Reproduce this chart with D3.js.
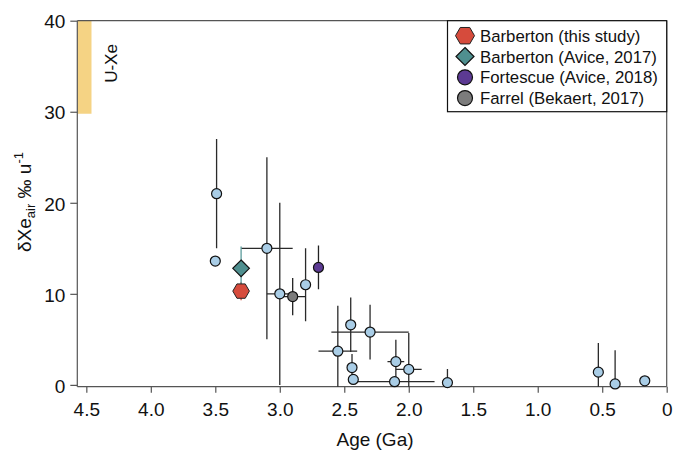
<!DOCTYPE html>
<html><head><meta charset="utf-8">
<script src="https://cdn.jsdelivr.net/npm/d3@7"></script>
<style>body{margin:0;background:#fff}svg{display:block}text{font-family:"Liberation Sans",Arial,Helvetica,sans-serif;fill:#111}</style>
</head><body>
<svg id="c" width="673" height="451"></svg>
<script>
// ---- data ----
const xTicks = [4.5, 4.0, 3.5, 3.0, 2.5, 2.0, 1.5, 1.0, 0.5, 0];
const xTickLabels = ["4.5", "4.0", "3.5", "3.0", "2.5", "2.0", "1.5", "1.0", "0.5", "0"];
const yTicks = [0, 10, 20, 30, 40];
const yTickLabels = ["0", "10", "20", "30", "40"];

// compiled literature data (light blue circles)
const litAge  = [3.49, 3.50, 3.10, 3.00, 2.80, 2.45, 2.30, 2.55, 2.44, 2.43, 2.11, 2.10, 2.00, 1.70, 0.53, 0.40, 0.17];
const litVal  = [21.0, 13.6, 15.0, 10.0, 11.0, 6.6, 5.8, 3.7, 1.9, 0.6, 0.35, 2.55, 1.7, 0.25, 1.4, 0.1, 0.45];
const litYErr = [6, 0, 10, 10, 4, 3, 3, 5, 1.5, 0.5, 0, 2.4, 4, 1.5, 3.2, 3.7, 0];
const litXErr = [0, 0, 0.2, 0.1, 0, 0, 0.3, 0.15, 0, 0, 0.31, 0.065, 0.1, 0, 0, 0, 0];

const seriesNames = ["Barberton (this study)", "Barberton (Avice, 2017)", "Fortescue (Avice, 2018)", "Farrel (Bekaert, 2017)"];
const seriesAge  = [3.30, 3.30, 2.70, 2.90];
const seriesVal  = [10.3, 12.8, 12.9, 9.7];
const seriesYErr = [1.0, 2.4, 2.4, 2.05];
const seriesXErr = [0, 0, 0, 0.1];

// U-Xe band
const uxeAge = [4.57, 4.46];
const uxeVal = [30, 40];
const uxeLabel = "U-Xe";

// ---- styling ----
const colLit = "#a9cde6";
const seriesFill = ["#d64b3c", "#4f8f8f", "#5c3a93", "#7c7c7c"];
const seriesBar  = ["#d64b3c", "#5a9a9a", "#222", "#222"];
const seriesShape = ["hex", "diamond", "circle", "circle"];

const svg = d3.select("#c");
const L = 77.3, R = 666.7, T = 20.7, B = 386.7;
const x = d3.scaleLinear().domain([4.57, 0]).range([L, R]);
const y = d3.scaleLinear().domain([-0.2, 40]).range([B, T]);

svg.append("defs").append("clipPath").attr("id", "clip")
  .append("rect").attr("x", L).attr("y", T).attr("width", R - L).attr("height", B - T);

// U-Xe band
svg.append("rect").attr("x", x(uxeAge[0])).attr("y", y(uxeVal[1]))
  .attr("width", x(uxeAge[1]) - x(uxeAge[0])).attr("height", y(uxeVal[0]) - y(uxeVal[1]) + 2)
  .attr("fill", "#f5d384");
svg.append("text").attr("transform", `translate(${x(4.265)},${y(35.3)}) rotate(-90)`)
  .attr("text-anchor", "middle").attr("font-size", 17).text(uxeLabel);

// frame
const frame = svg.append("g").attr("stroke", "#555").attr("stroke-width", 1.2).attr("fill", "none");
frame.append("line").attr("x1", L).attr("x2", R).attr("y1", T).attr("y2", T);
frame.append("line").attr("x1", R).attr("x2", R).attr("y1", T).attr("y2", B);

// axes
const xAxis = d3.axisBottom(x).tickValues(xTicks).tickFormat((d, i) => xTickLabels[i]).tickSize(6).tickSizeOuter(0);
const gx = svg.append("g").attr("transform", `translate(0,${B})`).call(xAxis);
gx.selectAll("text").attr("font-size", 19).attr("dy", "1.05em").attr("fill", "#111");
const yAxis = d3.axisLeft(y).tickValues(yTicks).tickFormat((d, i) => yTickLabels[i]).tickSize(7).tickSizeOuter(0);
const gy = svg.append("g").attr("transform", `translate(${L},0)`).call(yAxis);
gy.selectAll("text").attr("font-size", 19).attr("x", -12).attr("dy", "0.38em").attr("fill", "#111");
[gx, gy].forEach(g => {
  g.select(".domain").attr("stroke", "#555").attr("stroke-width", 1.2);
  g.selectAll(".tick line").attr("stroke", "#555").attr("stroke-width", 1.2);
  g.attr("font-family", null);
});
gy.select(".domain").attr("d", `M0,${B}V${T}`);
gx.select(".domain").attr("d", `M${L},0H${R}`);

// axis titles
svg.append("text").attr("x", (L + R) / 2 + 3).attr("y", 446).attr("text-anchor", "middle")
  .attr("font-size", 19).text("Age (Ga)");
const yt = svg.append("text").attr("transform", `translate(31,202) rotate(-90)`)
  .attr("text-anchor", "middle").attr("font-size", 19);
yt.append("tspan").text("δXe");
yt.append("tspan").attr("font-size", 13).attr("dy", 4).text("air");
yt.append("tspan").attr("dy", -4).text(" ‰ u");
yt.append("tspan").attr("font-size", 13).attr("dy", -8).text("-1");

// error bars
const plot = svg.append("g").attr("clip-path", "url(#clip)");
const eb = plot.append("g").attr("fill", "none");
function errBars(ages, vals, xe, ye, color) {
  ages.forEach((a, i) => {
    if (ye[i] > 0) eb.append("line").attr("x1", x(a)).attr("x2", x(a))
      .attr("y1", y(vals[i] + ye[i])).attr("y2", y(vals[i] - ye[i]))
      .attr("stroke", typeof color === "string" ? color : color[i]).attr("stroke-width", 1.3);
    if (xe[i] > 0) eb.append("line").attr("x1", x(a + xe[i])).attr("x2", x(a - xe[i]))
      .attr("y1", y(vals[i])).attr("y2", y(vals[i]))
      .attr("stroke", typeof color === "string" ? color : color[i]).attr("stroke-width", 1.3);
  });
}
errBars(litAge, litVal, litXErr, litYErr, "#2a2a2a");
errBars(seriesAge, seriesVal, seriesXErr, seriesYErr, seriesBar);

// markers
function hexPath(r) {
  return d3.range(6).map(k => {
    const t = k * Math.PI / 3;
    return [r * Math.cos(t), r * Math.sin(t)];
  }).map((p, k) => (k ? "L" : "M") + p[0].toFixed(2) + "," + p[1].toFixed(2)).join("") + "Z";
}
function drawShape(g, shape, cx, cy, fill, size) {
  if (shape === "circle") {
    g.append("circle").attr("cx", cx).attr("cy", cy).attr("r", size.c).attr("fill", fill)
      .attr("stroke", "#111").attr("stroke-width", 1.2);
  } else if (shape === "hex") {
    g.append("path").attr("d", hexPath(size.h)).attr("transform", `translate(${cx},${cy})`)
      .attr("fill", fill).attr("stroke", "#222").attr("stroke-width", 1);
  } else {
    const s = size.d;
    g.append("path").attr("d", `M0,${-s}L${s},0L0,${s}L${-s},0Z`).attr("transform", `translate(${cx},${cy})`)
      .attr("fill", fill).attr("stroke", "#111").attr("stroke-width", 1.2);
  }
}
const mk = svg.append("g");
litAge.forEach((a, i) => drawShape(mk, "circle", x(a), y(litVal[i]), colLit, {c: 5}));
seriesAge.forEach((a, i) => drawShape(mk, seriesShape[i], x(a), y(seriesVal[i]), seriesFill[i], {c: 5, h: 8.3, d: 8.3}));

// legend
const lg = svg.append("g");
const lgL = 447.5, lgT = T, lgW = R - 447.5, lgH = 91;
lg.append("rect").attr("x", lgL).attr("y", lgT).attr("width", lgW).attr("height", lgH)
  .attr("fill", "#fff").attr("stroke", "#111").attr("stroke-width", 1.2);
seriesNames.forEach((n, i) => {
  const cy = 35.7 + i * 20.8;
  drawShape(lg, seriesShape[i], 465, cy, seriesFill[i], {c: 7.5, h: 9.5, d: 9});
  lg.append("text").attr("x", 480).attr("y", cy).attr("dy", "0.36em").attr("font-size", 16.8).text(n);
});
</script>
</body></html>
